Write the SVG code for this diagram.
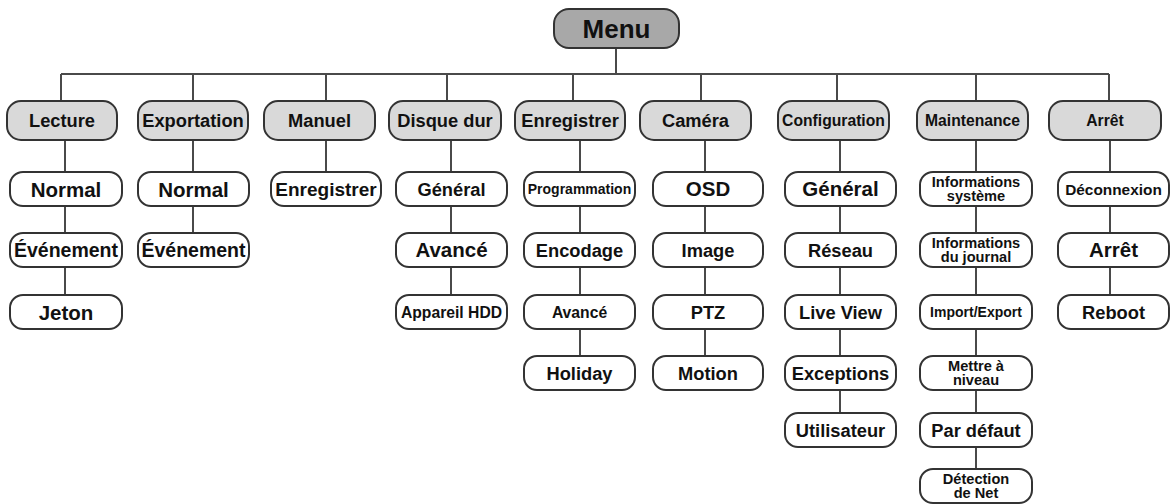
<svg xmlns="http://www.w3.org/2000/svg" width="1174" height="504" viewBox="0 0 1174 504">
<style>
.m rect,.l1 rect,.l2 rect{stroke:#333;stroke-width:2}
.m rect{fill:#a8a8a8}
.l1 rect{fill:#d9d9d9}
.l2 rect{fill:#fff}
text{font-family:"Liberation Sans",Arial,Helvetica,sans-serif;font-weight:bold;text-anchor:middle;fill:#111}
.a{font-size:26px}
.b{font-size:20.5px}
.c{font-size:18.3px}
.d{font-size:15.7px}
.e{font-size:14px}
.f{font-size:14.6px}
#connectors line{stroke:#4a4a4a;stroke-width:2;fill:none}
</style>
<rect width="1174" height="504" fill="#fff"/>
<g id="connectors">
<line x1="616" y1="48" x2="616" y2="74"/>
<line x1="61" y1="74" x2="1109" y2="74"/>
<line x1="61" y1="74" x2="61" y2="101"/>
<line x1="193" y1="74" x2="193" y2="101"/>
<line x1="326" y1="74" x2="326" y2="101"/>
<line x1="447" y1="74" x2="447" y2="101"/>
<line x1="573" y1="74" x2="573" y2="101"/>
<line x1="701" y1="74" x2="701" y2="101"/>
<line x1="837" y1="74" x2="837" y2="101"/>
<line x1="976" y1="74" x2="976" y2="101"/>
<line x1="1109" y1="74" x2="1109" y2="101"/>
<line x1="65" y1="140" x2="65" y2="295"/>
<line x1="193" y1="140" x2="193" y2="233"/>
<line x1="326" y1="140" x2="326" y2="172"/>
<line x1="451" y1="140" x2="451" y2="295"/>
<line x1="580" y1="140" x2="580" y2="356"/>
<line x1="705" y1="140" x2="705" y2="356"/>
<line x1="840" y1="140" x2="840" y2="413"/>
<line x1="976" y1="140" x2="976" y2="469"/>
<line x1="1110" y1="140" x2="1110" y2="295"/>
</g>
<g id="menu" class="m"><rect x="554" y="9" width="125" height="39" rx="15"/><text class="a" x="616.5" y="38">Menu</text></g>
<g id="lecture" class="l1"><rect x="7" y="101" width="110" height="39" rx="14"/><text class="c" x="62" y="127">Lecture</text></g>
<g id="exportation" class="l1"><rect x="138" y="101" width="110" height="39" rx="14"/><text class="c" x="193" y="127">Exportation</text></g>
<g id="manuel" class="l1"><rect x="264" y="101" width="111" height="39" rx="14"/><text class="c" x="319.5" y="127">Manuel</text></g>
<g id="disque-dur" class="l1"><rect x="389" y="101" width="112" height="39" rx="14"/><text class="c" x="445" y="127">Disque dur</text></g>
<g id="enregistrer" class="l1"><rect x="515" y="101" width="110" height="39" rx="14"/><text class="c" x="570" y="127">Enregistrer</text></g>
<g id="camera" class="l1"><rect x="640" y="101" width="111" height="39" rx="14"/><text class="c" x="695.5" y="127">Caméra</text></g>
<g id="configuration" class="l1"><rect x="778" y="101" width="111" height="39" rx="14"/><text class="d" x="833.5" y="126.2">Configuration</text></g>
<g id="maintenance" class="l1"><rect x="917" y="101" width="111" height="39" rx="14"/><text class="d" x="972.5" y="126.2">Maintenance</text></g>
<g id="arret" class="l1"><rect x="1049" y="101" width="112" height="39" rx="14"/><text class="d" x="1105" y="126.2">Arrêt</text></g>

<g id="lecture-normal" class="l2"><rect x="10" y="172" width="112" height="34" rx="13"/><text class="b" x="66" y="196.5">Normal</text></g>
<g id="lecture-evenement" class="l2"><rect x="10" y="233" width="112" height="34" rx="13"/><text style="font-size:19.5px" x="66" y="257">Événement</text></g>
<g id="lecture-jeton" class="l2"><rect x="10" y="295" width="112" height="34" rx="13"/><text class="b" x="66" y="319.5">Jeton</text></g>

<g id="export-normal" class="l2"><rect x="138" y="172" width="111" height="34" rx="13"/><text class="b" x="193.5" y="196.5">Normal</text></g>
<g id="export-evenement" class="l2"><rect x="138" y="233" width="111" height="34" rx="13"/><text style="font-size:19.5px" x="193.5" y="257">Événement</text></g>

<g id="manuel-enregistrer" class="l2"><rect x="271" y="172" width="110" height="34" rx="13"/><text style="font-size:19px" x="326" y="195.8">Enregistrer</text></g>

<g id="hdd-general" class="l2"><rect x="396" y="172" width="111" height="34" rx="13"/><text class="c" x="451.5" y="195.6">Général</text></g>
<g id="hdd-avance" class="l2"><rect x="396" y="233" width="111" height="34" rx="13"/><text class="b" x="451.5" y="257.4">Avancé</text></g>
<g id="hdd-appareil" class="l2"><rect x="396" y="295" width="111" height="34" rx="13"/><text class="d" x="451.5" y="317.7">Appareil HDD</text></g>

<g id="rec-programmation" class="l2"><rect x="524" y="172" width="111" height="34" rx="13"/><text class="e" x="579.5" y="194">Programmation</text></g>
<g id="rec-encodage" class="l2"><rect x="524" y="233" width="111" height="34" rx="13"/><text class="c" x="579.5" y="256.6">Encodage</text></g>
<g id="rec-avance" class="l2"><rect x="524" y="295" width="111" height="34" rx="13"/><text class="d" x="579.5" y="317.7">Avancé</text></g>
<g id="rec-holiday" class="l2"><rect x="524" y="356" width="111" height="34" rx="13"/><text class="c" x="579.5" y="379.6">Holiday</text></g>

<g id="cam-osd" class="l2"><rect x="653" y="172" width="110" height="34" rx="13"/><text class="b" x="708" y="196.4">OSD</text></g>
<g id="cam-image" class="l2"><rect x="653" y="233" width="110" height="34" rx="13"/><text class="c" x="708" y="256.6">Image</text></g>
<g id="cam-ptz" class="l2"><rect x="653" y="295" width="110" height="34" rx="13"/><text class="c" x="708" y="318.6">PTZ</text></g>
<g id="cam-motion" class="l2"><rect x="653" y="356" width="110" height="34" rx="13"/><text class="c" x="708" y="379.6">Motion</text></g>

<g id="cfg-general" class="l2"><rect x="785" y="172" width="111" height="34" rx="13"/><text class="b" x="840.5" y="196.4">Général</text></g>
<g id="cfg-reseau" class="l2"><rect x="785" y="233" width="111" height="34" rx="13"/><text class="c" x="840.5" y="256.6">Réseau</text></g>
<g id="cfg-liveview" class="l2"><rect x="785" y="295" width="111" height="34" rx="13"/><text class="c" x="840.5" y="318.6">Live View</text></g>
<g id="cfg-exceptions" class="l2"><rect x="785" y="356" width="111" height="34" rx="13"/><text class="c" x="840.5" y="379.6">Exceptions</text></g>
<g id="cfg-utilisateur" class="l2"><rect x="785" y="413" width="111" height="34" rx="13"/><text class="c" x="840.5" y="436.6">Utilisateur</text></g>

<g id="mnt-infosys" class="l2"><rect x="920" y="172" width="112" height="34" rx="13"/><text class="f" x="976" y="186.5">Informations</text><text class="f" x="976" y="200.5">système</text></g>
<g id="mnt-infojournal" class="l2"><rect x="920" y="233" width="112" height="34" rx="13"/><text class="f" x="976" y="247.5">Informations</text><text class="f" x="976" y="261.5">du journal</text></g>
<g id="mnt-import" class="l2"><rect x="920" y="295" width="112" height="34" rx="13"/><text class="e" x="976" y="317">Import/Export</text></g>
<g id="mnt-maj" class="l2"><rect x="920" y="356" width="112" height="34" rx="13"/><text class="f" x="976" y="370.5">Mettre à</text><text class="f" x="976" y="384.5">niveau</text></g>
<g id="mnt-defaut" class="l2"><rect x="920" y="413" width="112" height="34" rx="13"/><text class="c" x="976" y="436.6">Par défaut</text></g>
<g id="mnt-detection" class="l2"><rect x="920" y="469" width="112" height="34" rx="13"/><text class="f" x="976" y="483.5">Détection</text><text class="f" x="976" y="497.5">de Net</text></g>

<g id="arret-deconnexion" class="l2"><rect x="1058" y="172" width="111" height="34" rx="13"/><text style="font-size:15.4px" x="1113.5" y="194.6">Déconnexion</text></g>
<g id="arret-arret" class="l2"><rect x="1058" y="233" width="111" height="34" rx="13"/><text class="b" x="1113.5" y="257.4">Arrêt</text></g>
<g id="arret-reboot" class="l2"><rect x="1058" y="295" width="111" height="34" rx="13"/><text class="c" x="1113.5" y="318.6">Reboot</text></g>
</svg>
